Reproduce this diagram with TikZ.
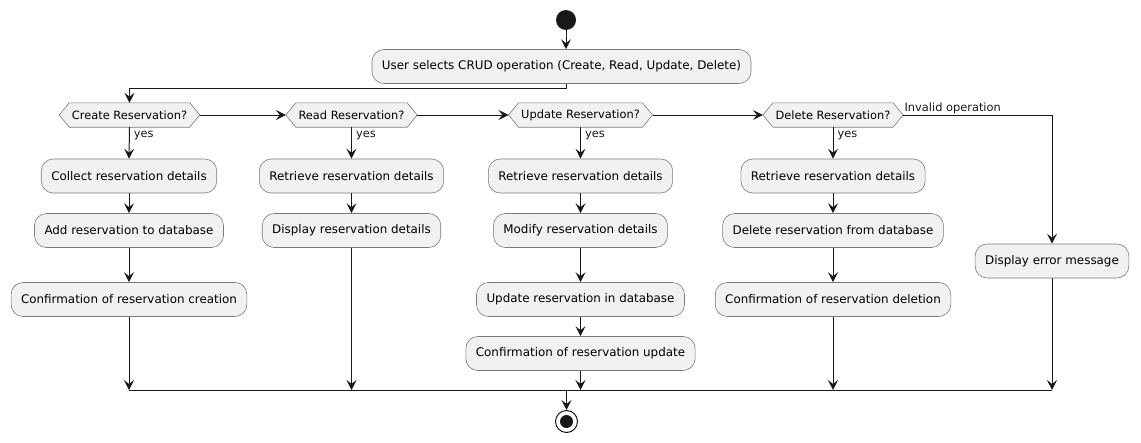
\documentclass[tikz,border=0pt]{standalone}
\usepackage{fontspec}
\setmainfont{DejaVu Sans}
\usepackage{tikz}
\usetikzlibrary{calc,arrows.meta,backgrounds,positioning}
\definecolor{boxgray}{HTML}{F1F1F1}
\definecolor{edgegray}{HTML}{7A7A7A}
\definecolor{flowblack}{HTML}{181818}
\newcommand{\actfont}{\fontsize{11.9}{14}\selectfont}
\newcommand{\choicefont}{\fontsize{11.4}{13}\selectfont}
\tikzset{
  act/.style        = {rectangle, rounded corners=12pt, draw=edgegray, fill=boxgray,
                       line width=0.6pt, minimum height=34pt, inner xsep=10pt, font=\actfont},
  choicetext/.style = {rectangle, inner xsep=12.5pt, inner ysep=0pt, minimum height=24pt,
                       font=\choicefont},
  choicebox/.style  = {draw=edgegray, fill=boxgray, line width=0.6pt},
  flow/.style       = {-{Stealth[length=10pt,width=10pt,inset=4pt]}, line width=1pt,
                       draw=flowblack},
  plain/.style      = {line width=1pt, draw=flowblack},
  lab/.style        = {font=\choicefont, inner sep=1pt, text=flowblack},
  yeslab/.style     = {lab, inner xsep=4pt},
  initial/.style    = {circle, fill=flowblack, minimum size=20pt, inner sep=0pt},
  final/.style      = {circle, draw=flowblack, line width=1pt, fill=white,
                       minimum size=22pt, inner sep=0pt,
                       path picture={\fill[flowblack] (path picture bounding box.center)
                       circle (6.5pt);}},
}
% hexagonal decision node: tips at .west and .east
\newcommand{\choice}[3]{%
  \node[choicetext] (#1) at #2 {#3};
  \begin{pgfonlayer}{background}
    \draw[choicebox] (#1.west) -- ([xshift=10pt]#1.north west)
      -- ([xshift=-10pt]#1.north east) -- (#1.east)
      -- ([xshift=-10pt]#1.south east) -- ([xshift=10pt]#1.south west) -- cycle;
  \end{pgfonlayer}
}
\begin{document}
\begin{tikzpicture}[x=1pt,y=-1pt]
  \useasboundingbox (0,0) rectangle (1141,442);

  \node[initial] (init) at (566,20) {};
  \node[act] (select) at (561.5,66.5) {User selects CRUD operation (Create, Read, Update, Delete)};
  \coordinate (fork) at (566,88);

  \choice{create}{(129.5,115)}{Create Reservation?}
  \choice{read}{(351.5,115)}{Read Reservation?}
  \choice{update}{(580.5,115)}{Update Reservation?}
  \choice{delete}{(833,115)}{Delete Reservation?}

  % create branch
  \node[act] (cCollect) at (129,176)   {Collect reservation details};
  \node[act] (cAdd)     at (129,230.5) {Add reservation to database};
  \node[act] (cConfirm) at (129,299.5) {Confirmation of reservation creation};
  % read branch
  \node[act] (rRetrieve) at (351.5,176)   {Retrieve reservation details};
  \node[act] (rDisplay)  at (351.5,230.5) {Display reservation details};
  % update branch
  \node[act] (uRetrieve) at (580.5,176)   {Retrieve reservation details};
  \node[act] (uModify)   at (580.5,230.5) {Modify reservation details};
  \node[act] (uStore)    at (580.5,299.5) {Update reservation in database};
  \node[act] (uConfirm)  at (580.5,353.5) {Confirmation of reservation update};
  % delete branch
  \node[act] (dRetrieve) at (833,176)   {Retrieve reservation details};
  \node[act] (dRemove)   at (833,230.5) {Delete reservation from database};
  \node[act] (dConfirm)  at (833,299.5) {Confirmation of reservation deletion};
  % invalid
  \node[act] (error) at (1052,261) {Display error message};

  \coordinate (mergeL) at (129,390);
  \coordinate (mergeR) at (1052,390);
  \node[final] (stop) at (566.5,421.5) {};

  \draw[flow] (init) -- (init |- select.north);
  \draw[flow] (init |- select.south) -- (fork) -| (create.north);

  \draw[flow] (create) -- (read);
  \draw[flow] (read)   -- (update);
  \draw[flow] (update) -- (delete);
  \draw[flow] (delete.east) -| node[lab, pos=0, anchor=south west] {Invalid operation} (error.north);

  \foreach \dec/\first in {create/cCollect, read/rRetrieve, update/uRetrieve, delete/dRetrieve}
    \draw[flow] (\dec.south) -- node[yeslab, pos=0.27, anchor=west] {yes} (\first.north);

  \draw[flow] (cCollect) -- (cAdd);
  \draw[flow] (cAdd) -- (cConfirm);
  \draw[flow] (rRetrieve) -- (rDisplay);
  \draw[flow] (uRetrieve) -- (uModify);
  \draw[flow] (uModify) -- (uStore);
  \draw[flow] (uStore) -- (uConfirm);
  \draw[flow] (dRetrieve) -- (dRemove);
  \draw[flow] (dRemove) -- (dConfirm);

  \draw[plain] (mergeL) -- (mergeR);
  \foreach \last in {cConfirm, rDisplay, uConfirm, dConfirm, error}
    \draw[flow] (\last.south) -- (\last |- mergeL);
  \draw[flow] (stop |- mergeL) -- (stop.north);
\end{tikzpicture}
\end{document}
